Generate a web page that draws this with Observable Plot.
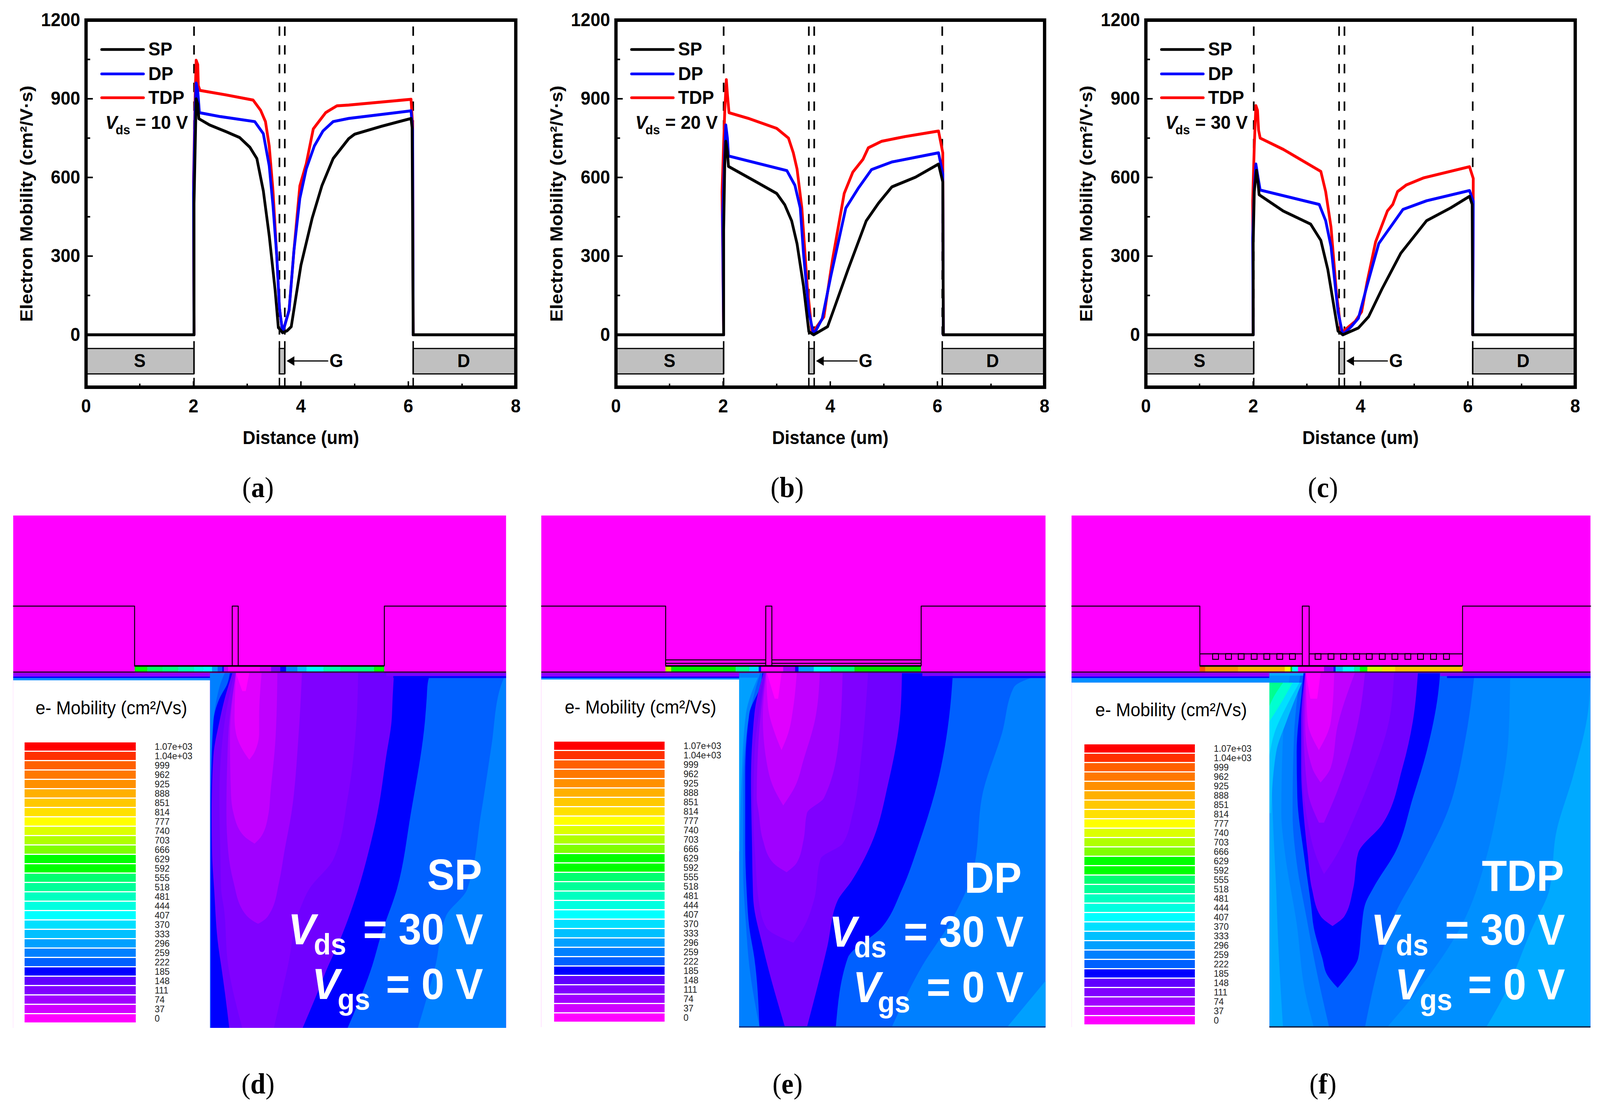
<!DOCTYPE html>
<html><head><meta charset="utf-8">
<script src="https://cdn.jsdelivr.net/npm/d3@7"></script>
<script src="https://cdn.jsdelivr.net/npm/@observablehq/plot@0.6"></script>
<style>
html,body{margin:0;background:#fff;overflow:hidden}
#stage{position:relative;width:100vw;height:2832px;overflow:hidden}
#page{position:absolute;left:0;top:0;width:4360px;height:2832px;overflow:hidden;background:#fff;transform-origin:0 0}
#page svg{position:absolute;background:none;overflow:visible;max-width:none}
.cap{position:absolute;font-family:"Liberation Serif",serif;font-size:74px;color:#000;transform:translate(-50%,-50%);line-height:1}
</style></head><body><div id="stage"><div id="page"></div></div>
<script>
// ---------- line chart data: [distance um, mobility] ----------
const sp10=[[0,0],[2.01,0],[2.01,500],[2.03,700],[2.05,900],[2.08,880],[2.1,824],[2.3,800],[2.6,775],[2.86,752],[3.05,715],[3.18,672],[3.3,549],[3.41,378],[3.52,170],[3.58,27],[3.66,8],[3.74,15],[3.82,31],[3.89,122],[4.0,265],[4.21,445],[4.39,568],[4.6,672],[4.89,748],[5.0,765],[5.5,795],[6.05,825],[6.07,790],[6.09,0],[8,0]];
const dp10=[[2.01,0],[2.0,540],[2.03,850],[2.05,960],[2.08,930],[2.11,847],[2.5,832],[3.14,813],[3.3,767],[3.41,644],[3.48,492],[3.55,302],[3.6,102],[3.66,8],[3.78,94],[3.87,321],[3.98,520],[4.1,633],[4.25,720],[4.41,777],[4.6,813],[4.89,825],[6.05,854],[6.08,780],[6.09,0]];
const tdp10=[[2.01,0],[2.0,585],[2.03,900],[2.05,1047],[2.08,1030],[2.09,950],[2.12,932],[2.6,915],[3.11,895],[3.25,856],[3.34,813],[3.41,720],[3.48,549],[3.55,302],[3.6,102],[3.66,8],[3.78,94],[3.87,321],[3.98,568],[4.1,653],[4.23,785],[4.3,804],[4.46,847],[4.53,856],[4.67,873],[4.89,876],[6.05,898],[6.08,800],[6.09,0]];
const sp20=[[0,0],[2.01,0],[2.01,400],[2.03,645],[2.05,738],[2.08,700],[2.1,642],[2.6,585],[3.0,539],[3.15,496],[3.28,434],[3.38,347],[3.5,186],[3.6,12],[3.69,0],[3.95,31],[4.07,99],[4.33,248],[4.67,434],[4.9,502],[5.15,564],[5.59,601],[6.02,651],[6.1,583],[6.11,0],[8,0]];
const dp20=[[2.01,0],[1.99,450],[2.03,700],[2.05,800],[2.08,750],[2.1,682],[3.19,626],[3.34,570],[3.44,483],[3.5,310],[3.6,87],[3.69,0],[3.85,62],[4.01,223],[4.29,483],[4.52,558],[4.77,630],[5.15,659],[6.02,694],[6.1,614],[6.11,0]];
const tdp20=[[2.01,0],[1.98,545],[2.03,850],[2.06,973],[2.08,917],[2.11,847],[2.49,824],[3.0,787],[3.22,750],[3.31,694],[3.38,632],[3.47,483],[3.57,186],[3.66,6],[3.88,68],[4.04,285],[4.26,539],[4.42,620],[4.61,669],[4.71,713],[4.96,738],[5.4,756],[6.02,777],[6.1,694],[6.11,0]];
const sp30=[[0,0],[2.0,0],[2.0,350],[2.02,546],[2.06,627],[2.09,580],[2.11,534],[2.56,472],[3.07,422],[3.26,360],[3.39,249],[3.51,100],[3.58,14],[3.67,0],[3.96,26],[4.15,69],[4.4,175],[4.75,311],[5.23,435],[5.68,484],[6.03,528],[6.08,497],[6.09,0],[8,0]];
const dp30=[[2.0,0],[1.99,370],[2.02,560],[2.05,651],[2.09,600],[2.13,552],[3.23,497],[3.35,435],[3.45,336],[3.58,88],[3.67,0],[3.83,32],[3.96,63],[4.12,187],[4.34,348],[4.79,478],[5.23,511],[6.03,550],[6.1,509],[6.09,0]];
const tdp30=[[2.0,0],[1.99,509],[2.02,720],[2.05,874],[2.08,856],[2.1,780],[2.13,750],[2.56,707],[3.26,623],[3.35,546],[3.45,410],[3.55,162],[3.64,7],[3.9,51],[4.02,88],[4.12,199],[4.28,354],[4.5,472],[4.6,497],[4.69,546],[4.85,571],[5.17,598],[6.03,641],[6.1,596],[6.09,0]];

const xTicks=[0,2,4,6,8], xMinor=[1,3,5,7], xMajorIn=[2,4,6];
const yTicks=[0,300,600,900,1200], yMinor=[150,450,750,1050], yMajorIn=[300,600,900];
const edges=[2.01,3.6,3.7,6.09];
const electrodes=[{n:"S",a:0,b:2.01,c:1},{n:"",a:3.6,b:3.7,c:3.65},{n:"D",a:6.09,b:8,c:7.03}];
const seriesNames=["SP","DP","TDP"], seriesColors=["#000000","#0000ff","#ff0000"], legendY=[1088,995,904];

// ---------- contour legend ----------
const scaleLabels=["1.07e+03","1.04e+03","999","962","925","888","851","814","777","740","703","666","629","592","555","518","481","444","407","370","333","296","259","222","185","148","111","74","37","0"];
const scaleColors=["#ff0000","#ff3000","#ff6000","#ff7800","#ff9000","#ffb000","#ffc800","#ffe000","#ffff00","#ddff00","#b0ff00","#80ff00","#00ff00","#00ff00","#00ff70","#00ff98","#00ffc0","#00ffe0","#00ffff","#00e0ff","#00c0ff","#00a0ff","#0080ff","#0060ff","#0000ff","#6000ff","#8000ff","#a000ff","#d000ff","#ff00ff"];

// ---------- contour bands: [depth, left edge, right edge] ----------
const dBands=[
["#0060ff",[[433,640,1441],[470,625,1425],[620,603,1400],[800,600,1370],[1000,600,1330],[1070,600,1270],[1200,600,1240],[1363,600,1190]]],
["#0000ff",[[433,655,1225],[460,648,1218],[500,625,1215],[560,608,1210],[800,600,1170],[1000,600,1130],[1120,600,1085],[1200,600,1060],[1363,600,990]]],
["#7000ff",[[433,662,1122],[500,640,1118],[560,625,1115],[650,608,1100],[800,603,1075],[900,604,1050],[1000,610,1020],[1150,622,960],[1200,630,935],[1280,642,900],[1363,653,862]]],
["#8000ff",[[433,668,1020],[560,640,1015],[760,625,990],[920,628,950],[1000,630,880],[1050,638,855],[1200,650,820],[1363,690,780]]],
["#a000ff",[[433,672,860],[600,650,850],[800,645,830],[900,650,810],[980,665,795],[1060,695,770],[1085,725,745],[1090,735,735]]],
["#c000ff",[[433,672,790],[600,655,785],[750,658,770],[800,665,765],[860,695,745],[880,725,725]]],
["#e000ff",[[433,672,745],[550,668,738],[590,672,738],[640,695,725],[660,710,710]]],
["#ff00ff",[[433,672,710],[480,690,700]]]];
const eBands=[
["#00a0ff",[[445,610,665],[540,610,630],[700,610,618],[900,610,612]]],
["#00a0ff",[[1240,1513,1513],[1361,1400,1513]]],
["#0060ff",[[433,672,1513],[470,660,1420],[590,632,1385],[740,622,1330],[950,622,1300],[1090,630,1230],[1200,640,1150],[1361,670,1060]]],
["#0000ff",[[433,678,1240],[460,675,1238],[540,640,1230],[700,628,1200],[880,628,1140],[1000,632,1090],[1100,640,1030],[1180,655,930],[1361,670,895]]],
["#7000ff",[[433,682,1090],[540,655,1085],[720,645,1050],[880,648,1000],[980,650,940],[1030,652,900],[1150,680,870],[1361,745,810]]],
["#8000ff",[[433,686,990],[500,675,985],[650,655,970],[800,652,945],[880,655,915],[920,658,850],[1030,668,830],[1100,690,800],[1140,770,770]]],
["#a000ff",[[433,688,915],[600,668,905],[760,662,860],[800,668,810],[870,680,800],[930,710,780],[955,750,750]]],
["#c000ff",[[433,690,848],[550,680,835],[660,690,800],[730,710,775],[780,740,740]]],
["#e000ff",[[433,690,780],[520,695,770],[590,715,755],[635,735,735]]],
["#ff00ff",[[433,692,735],[500,715,725]]]];
const fBands=[
["#0090ff",[[440,600,1540],[520,600,1535],[700,606,1490],[850,612,1440],[1000,620,1420],[1100,624,1370],[1290,635,1280],[1361,640,1235]]],
["#0080ff",[[440,660,1305],[600,640,1300],[800,635,1265],[900,645,1240],[1090,680,1165],[1270,705,1030],[1361,730,945]]],
["#0060ff",[[440,690,1200],[600,672,1175],[800,668,1120],[930,680,1050],[1080,710,960],[1200,735,920],[1361,775,880]]],
["#00c0ff",[[458,600,695],[560,600,650],[640,600,620],[800,600,605]]],
["#00e0ff",[[458,600,688],[520,600,650],[590,600,615],[650,600,600]]],
["#00ffd0",[[458,600,668],[510,600,635],[560,600,600]]],
["#00ff90",[[458,600,640],[500,600,610],[520,600,600]]],
["#0000ff",[[433,700,1100],[480,695,1095],[640,680,1060],[760,682,1020],[900,700,970],[995,715,905],[1040,722,880],[1100,730,870],[1180,755,860],[1225,770,830],[1258,800,800]]],
["#7000ff",[[433,705,1035],[560,693,1020],[680,693,990],[830,703,930],[905,712,860],[1000,725,845],[1070,750,820],[1096,785,785]]],
["#8000ff",[[433,705,965],[560,697,950],[700,697,900],[810,710,850],[920,740,790],[960,760,760]]],
["#a000ff",[[433,705,880],[560,700,860],[740,712,800],[825,745,760]]],
["#c000ff",[[433,706,850],[570,705,800],[680,725,780],[720,750,750]]],
["#e000ff",[[433,707,790],[560,712,780],[635,745,745]]],
["#ff00ff",[[433,707,750],[500,720,740]]]];

// ---------- mobility along the capping strip: [from, to, colour] ----------
const dStrip=[[384,420,"#00ff00"],[420,463,"#00ff60"],[463,508,"#00ff80"],[508,553,"#00ffb0"],[553,580,"#00ffe0"],[580,604,"#00ffff"],[604,620,"#00a0ff"],[620,633,"#0060ff"],[633,638,"#0000ff"],[638,650,"#c000ff"],[650,740,"#ff00ff"],[740,772,"#d000ff"],[772,798,"#8000ff"],[798,815,"#0000ff"],[815,847,"#0080ff"],[847,873,"#00c0ff"],[873,921,"#00ffff"],[921,969,"#00ffb0"],[969,1065,"#00ff80"],[1065,1094,"#00ff00"]];
const eStrip=[[393,410,"#b0ff00"],[410,600,"#00f000"],[600,640,"#00ff90"],[640,668,"#00e0ff"],[668,675,"#0000ff"],[675,740,"#ff00ff"],[740,775,"#a000ff"],[775,785,"#0000ff"],[785,830,"#00a0ff"],[830,880,"#00ffff"],[880,950,"#00ff80"],[950,1146,"#00e000"]];
const fStrip=[[396,412,"#ff5000"],[412,508,"#ff9000"],[508,645,"#ffb000"],[645,662,"#ffff00"],[662,667,"#00e000"],[667,684,"#00ffff"],[686,760,"#ff00ff"],[760,788,"#9000ff"],[788,794,"#0000ff"],[794,815,"#00c0ff"],[815,848,"#00ffff"],[848,865,"#00ffa0"],[865,887,"#00ff00"],[887,930,"#d0ff00"],[930,969,"#ffe000"],[969,1166,"#ffc000"]];
const fFingers=[442,480,517,555,592,630,667,742,780,817,855,892,930,967,1005,1042,1080,1118];

const page=document.getElementById("page");
page.style.transform="scaleX("+(window.innerWidth/4360)+")";
const sans="'Liberation Sans',Arial,sans-serif";
function place(svg,left,top){svg.style.left=left+"px";svg.style.top=top+"px";page.appendChild(svg);}

function chart(cfg){
  const L=220,R=60,T=51,B=209;
  const marks=[];
  const black="#000";
  marks.push(Plot.rect(electrodes,{x1:"a",x2:"b",y1:-53,y2:-150,fill:"#c0c0c0",stroke:black,strokeWidth:3}));
  marks.push(Plot.text(electrodes,{x:"c",y:-100,text:"n",fontSize:48,fontWeight:700}));
  for(const e of edges){
    marks.push(Plot.ruleX([e],{y1:1175,y2:0,stroke:black,strokeWidth:4.5,strokeDasharray:"24,24"}));
    marks.push(Plot.ruleX([e],{y1:-25,y2:-150,stroke:black,strokeWidth:4}));
    marks.push(Plot.ruleX([e],{y1:-165,y2:-200,stroke:black,strokeWidth:4}));
  }
  marks.push(Plot.line([[3.85,-100],[4.5,-100]],{stroke:black,strokeWidth:3}));
  marks.push(Plot.dot([[3.83,-100]],{symbol:"triangle",rotate:-90,r:9,fill:black,stroke:"none"}));
  marks.push(Plot.text(["G"],{x:4.66,y:-100,fontSize:48,fontWeight:700}));
  marks.push(Plot.ruleX(xMinor,{y1:-200,y2:-187,stroke:black,strokeWidth:4}));
  marks.push(Plot.ruleX(xMajorIn,{y1:-200,y2:-178,stroke:black,strokeWidth:4}));
  marks.push(Plot.ruleY(yMinor,{x1:0,x2:0.08,stroke:black,strokeWidth:4}));
  marks.push(Plot.ruleY(yMajorIn,{x1:0,x2:0.13,stroke:black,strokeWidth:4}));
  [cfg.tdp,cfg.dp,cfg.sp].forEach((d,i)=>{
    marks.push(Plot.line(d,{stroke:seriesColors[2-i],strokeWidth:7.5,strokeLinejoin:"round"}));
  });
  seriesNames.forEach((n,i)=>{
    marks.push(Plot.line([[0.29,legendY[i]],[1.07,legendY[i]]],{stroke:seriesColors[i],strokeWidth:7}));
    marks.push(Plot.text([n],{x:1.16,y:legendY[i],textAnchor:"start",fontSize:49,fontWeight:700}));
  });
  marks.push(Plot.text(["V"],{x:0.36,y:785,textAnchor:"start",lineAnchor:"bottom",fontSize:49,fontWeight:700,fontStyle:"italic"}));
  marks.push(Plot.text(["ds"],{x:0.55,y:765,textAnchor:"start",lineAnchor:"bottom",fontSize:34,fontWeight:700}));
  marks.push(Plot.text([cfg.vds],{x:0.92,y:785,textAnchor:"start",lineAnchor:"bottom",fontSize:49,fontWeight:700}));
  marks.push(Plot.axisX(xTicks,{anchor:"bottom",tickSize:0,tickPadding:30,tickFormat:String,fontSize:48,fontWeight:700,label:"Distance (um)",labelAnchor:"center",labelArrow:"none",labelOffset:145}));
  marks.push(Plot.axisY(yTicks,{anchor:"left",tickSize:0,tickPadding:16,tickFormat:String,fontSize:48,fontWeight:700,label:"Electron Mobility (cm²/V·s)",labelAnchor:"center",labelArrow:"none",labelOffset:180}));
  marks.push(Plot.frame({stroke:black,strokeWidth:9}));
  const svg=Plot.plot({width:cfg.w+L+R,height:1200,marginLeft:L,marginRight:R,marginTop:T,marginBottom:B,
    style:{fontFamily:sans,color:"#000",background:"none",overflow:"visible"},
    x:{domain:[0,8],axis:null},y:{domain:[-200,1200],axis:null},marks});
  place(svg,cfg.left-L,0);
}
chart({left:234,w:1171,sp:sp10,dp:dp10,tdp:tdp10,vds:"= 10 V"});
chart({left:1678,w:1168,sp:sp20,dp:dp20,tdp:tdp20,vds:"= 20 V"});
chart({left:3122,w:1170,sp:sp30,dp:dp30,tdp:tdp30,vds:"= 30 V"});

function heat(c){
  const rows=d=>d.map(([y,xl,xr])=>({y,xl,xr}));
  const black="#000", marks=[];
  const [x0,x1]=c.xd, [y0,y1]=c.yd;
  marks.push(Plot.rect([0],{x1:x0,x2:x1,y1:y0,y2:y1,fill:"#ff00ff"}));
  marks.push(Plot.rect([0],{x1:x0,x2:c.boxR+30,y1:433,y2:442,fill:"#9000ff"}));
  marks.push(Plot.rect([0],{x1:x0,x2:c.boxR+30,y1:442,y2:446,fill:"#0000ff"}));
  marks.push(Plot.rect([0],{x1:x0,x2:c.boxR+40,y1:446,y2:c.boxT,fill:"#0090ff"}));
  marks.push(Plot.rect([0],{x1:c.boxR,x2:x1,y1:433,y2:y1,fill:c.base}));
  for(const [col,d] of c.bands) marks.push(Plot.areaX(rows(d),{y:"y",x1:"xl",x2:"xr",fill:col,curve:"monotone-y"}));
  marks.push(Plot.rect([0],{x1:c.rs,x2:x1,y1:433,y2:441,fill:"#8000ff"}));
  marks.push(Plot.rect([0],{x1:c.rs+20,x2:x1,y1:441,y2:446,fill:"#0000ff"}));
  marks.push(Plot.rect([0],{x1:x0,x2:c.boxR,y1:c.boxT,y2:y1,fill:"#fff"}));
  marks.push(Plot.rect(c.strip,{x1:"0",x2:"1",y1:415,y2:430,fill:"2"}));
  const out=[[x0,257],[c.sl,257],[c.sl,413],[c.sr,413],[c.sr,257],[x1,257]];
  marks.push(Plot.line(out,{stroke:black,strokeWidth:2.5}));
  marks.push(Plot.line(c.gate,{stroke:black,strokeWidth:2.5}));
  marks.push(Plot.ruleY([430],{x1:x0,x2:x1,stroke:"#300040",strokeWidth:3.5}));
  marks.push(Plot.ruleY([414],{x1:c.sl,x2:c.sr,stroke:black,strokeWidth:3.5}));
  for(const e of c.extra||[]) marks.push(Plot.ruleY([e.y],{x1:e.a,x2:e.b,stroke:black,strokeWidth:2.5}));
  if(c.fingers) marks.push(Plot.rect(c.fingers,{x1:d=>d-8,x2:d=>d+9,y1:382,y2:397,stroke:black,strokeWidth:2.5,fill:"none"}));
  if(c.bottom) marks.push(Plot.ruleY([y1-1],{x1:c.boxR,x2:x1,stroke:c.bottom,strokeWidth:3.5}));
  marks.push(Plot.text(["e- Mobility (cm²/Vs)"],{x:c.tx,y:c.ty,fontSize:48,fill:black}));
  const big={fontWeight:700,fill:"#fff",lineAnchor:"bottom"};
  marks.push(Plot.text([c.name],{...big,x:c.end[0],y:c.b1,textAnchor:"end",fontSize:112}));
  marks.push(Plot.text(["V"],{...big,x:c.v1,y:c.b2,textAnchor:"start",fontSize:112,fontStyle:"italic"}));
  marks.push(Plot.text(["ds"],{...big,x:c.v1+73,y:c.b2+27,textAnchor:"start",fontSize:76}));
  marks.push(Plot.text(["= 30 V"],{...big,x:c.end[1],y:c.b2,textAnchor:"end",fontSize:112}));
  marks.push(Plot.text(["V"],{...big,x:c.v2,y:c.b3,textAnchor:"start",fontSize:112,fontStyle:"italic"}));
  marks.push(Plot.text(["gs"],{...big,x:c.v2+73,y:c.b3+27,textAnchor:"start",fontSize:76}));
  marks.push(Plot.text(["= 0 V"],{...big,x:c.end[1],y:c.b3,textAnchor:"end",fontSize:112}));
  const svg=Plot.plot({width:c.W,height:c.H,margin:0,style:{fontFamily:sans,background:"none",overflow:"visible"},
    x:{domain:c.xd,range:[0,c.W],axis:null},y:{domain:c.yd,range:[0,c.H],axis:null},marks});
  place(svg,c.left,c.top);
}
function colourKey(left,top,barW,h,gap){
  const svg=Plot.plot({width:barW+gap+140,height:h,margin:0,style:{fontFamily:sans,background:"none",overflow:"visible"},
    x:{domain:[0,1],range:[0,barW],axis:null},
    y:{type:"band",domain:scaleLabels,range:[0,h],padding:0.14,axis:null},
    marks:[
      Plot.barX(scaleLabels,{y:d=>d,x1:0,x2:1,fill:(d,i)=>scaleColors[i],stroke:"none"}),
      Plot.text(scaleLabels,{y:d=>d,x:1,dx:gap,text:d=>d,textAnchor:"start",fontSize:24.5,fill:"#222"})
    ]});
  place(svg,left,top);
}
heat({left:36,top:1320,W:1343,H:1312,xd:[38,1441],yd:[20,1363],boxR:598,boxT:452,base:"#0080ff",rs:1100,bands:dBands,strip:dStrip,sl:383,sr:1094,
  gate:[[661,413],[661,257],[678,257],[678,413]],tx:317,ty:525,name:"SP",end:[1372,1375],b1:1000,b2:1143,b3:1287,v1:820,v2:888});
colourKey(67,1897,303,725,51);
heat({left:1475,top:1320,W:1374,H:1310,xd:[27,1513],yd:[20,1361],boxR:610,boxT:450,base:"#0080ff",rs:1150,bands:eBands,strip:eStrip,sl:393,sr:1146,
  gate:[[688,413],[688,257],[706,257],[706,413]],extra:[{y:398,a:393,b:688},{y:398,a:706,b:1146},{y:407,a:393,b:688},{y:407,a:706,b:1146}],bottom:"#003080",tx:319,ty:523,name:"DP",end:[1442,1448],b1:1008,b2:1150,b3:1295,v1:875,v2:945});
colourKey(1510,1895,301,725,51);
heat({left:2920,top:1320,W:1414,H:1310,xd:[21,1540],yd:[20,1361],boxR:600,boxT:458,base:"#00aaff",rs:1100,bands:fBands,strip:fStrip,sl:396,sr:1165,
  gate:[[696,413],[696,257],[716,257],[716,413]],extra:[{y:382,a:396,b:696},{y:382,a:716,b:1165}],fingers:fFingers,bottom:"#102040",tx:312,ty:530,name:"TDP",end:[1462,1465],b1:1003,b2:1145,b3:1288,v1:897,v2:967});
colourKey(2955,1902,301,725,51);

const caps=[["a",703,1248],["b",2145,1248],["c",3605,1248],["d",703,2775],["e",2146,2775],["f",3605,2775]];
for(const [l,x,y] of caps){const d=document.createElement("div");d.className="cap";d.style.left=x+"px";d.style.top=y+"px";d.innerHTML="(<b>"+l+"</b>)";page.appendChild(d);}
</script></body></html>
